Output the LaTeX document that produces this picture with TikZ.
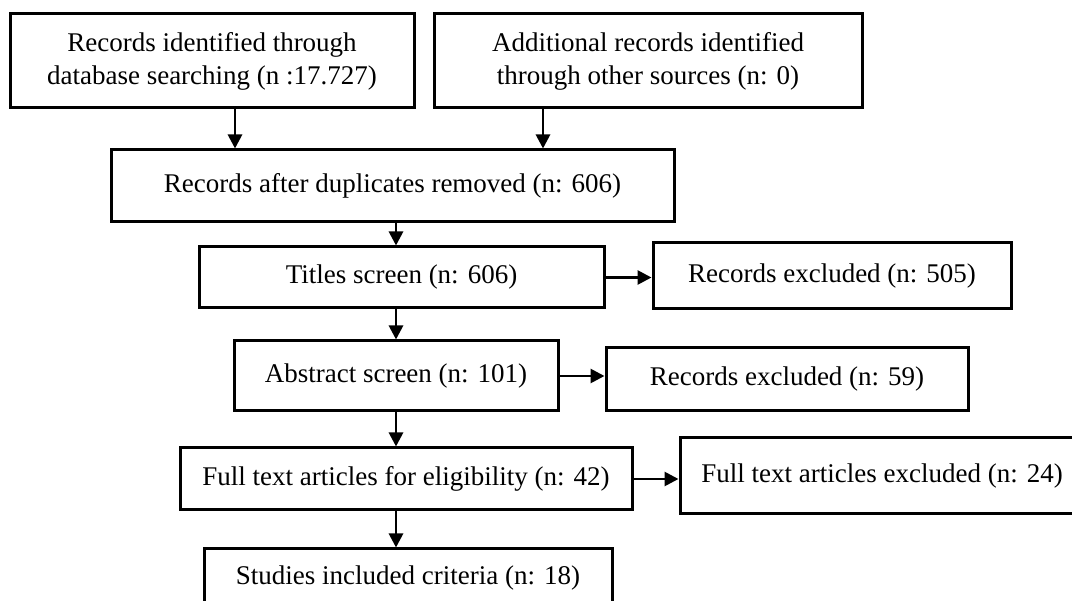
\documentclass[tikz,border=0pt]{standalone}
\usepackage{fontspec}
\setmainfont{Liberation Serif}
\usepackage{tikz}
\usetikzlibrary{positioning, calc, arrows.meta}
\tikzstyle{process} = [rectangle, inner sep=0pt, text centered, align=center, draw=black, line width=3pt, font=\fontsize{27}{33}\selectfont]
\tikzstyle{arrow} = [line width=2.8pt, -{Triangle[width=14pt,length=14pt]}]

\begin{document}
\begin{tikzpicture}[x=1pt, y=-1pt]
\path[use as bounding box, clip] (0,0) rectangle (1072,601);
\coordinate (spine) at (396,0);
\node (b1) [process, minimum width=404pt, minimum height=94pt] at (212,61) {Records identified through\\database searching (n :17.727)};
\node (b2) [process, minimum width=428pt, minimum height=94pt] at (648,61) {Additional records identified\\through other sources (n: 0)};
\node (b3) [process, minimum width=563pt, minimum height=72pt] at (392.5,186) {Records after duplicates removed (n: 606)};
\node (b4) [process, minimum width=405pt, minimum height=61pt] at (401.5,277.5) {Titles screen (n: 606)};
\node (b5) [process, minimum width=358pt, minimum height=66pt] at (832,276) {Records excluded (n: 505)};
\node (b6) [process, minimum width=324pt, minimum height=70pt] at (396,376) {Abstract screen (n: 101)};
\node (b7) [process, minimum width=362pt, minimum height=63pt] at (787,379.5) {Records excluded (n: 59)};
\node (b8) [process, minimum width=452pt, minimum height=62pt] at (406,479) {Full text articles for eligibility (n: 42)};
\node (b9) [process, minimum width=404pt, minimum height=76pt] at (882,476) {Full text articles excluded (n: 24)};
\node (b10) [process, minimum width=408pt, minimum height=58pt] at (408,578) {Studies included criteria (n: 18)};
\draw [arrow] ([xshift=23pt]b1.south) -- ([xshift=23pt]b1.south |- b3.north);
\draw [arrow] ([xshift=-105pt]b2.south) -- ([xshift=-105pt]b2.south |- b3.north);
\draw [arrow] (b3.south -| spine) -- (b4.north -| spine);
\draw [arrow] (b4.south -| spine) -- (b6.north -| spine);
\draw [arrow] (b6.south -| spine) -- (b8.north -| spine);
\draw [arrow] (b8.south -| spine) -- (b10.north -| spine);
\draw [arrow] (b4.east) -- (b4.east -| b5.west);
\draw [arrow] (b6.east) -- (b6.east -| b7.west);
\draw [arrow] (b8.east) -- (b8.east -| b9.west);
\end{tikzpicture}
\end{document}
